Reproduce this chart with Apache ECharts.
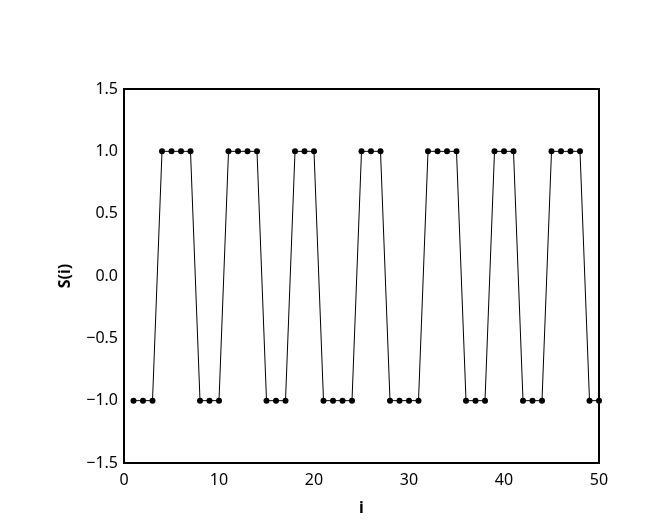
<!DOCTYPE html>
<html>
<head>
<meta charset="utf-8">
<script src="https://cdn.jsdelivr.net/npm/echarts@6/dist/echarts.min.js"></script>
<style>
  html, body { margin: 0; padding: 0; background: #fff; }
  #chart { width: 671px; height: 521px; }
</style>
</head>
<body>
<div id="chart"></div>
<script>
// spin values S(i) for i = 1..50
const steps = [1,2,3,4,5,6,7,8,9,10,11,12,13,14,15,16,17,18,19,20,21,22,23,24,25,26,27,28,29,30,31,32,33,34,35,36,37,38,39,40,41,42,43,44,45,46,47,48,49,50];
const spins = [-1,-1,-1,1,1,1,1,-1,-1,-1,1,1,1,1,-1,-1,-1,1,1,1,-1,-1,-1,-1,1,1,1,-1,-1,-1,-1,1,1,1,1,-1,-1,-1,1,1,1,-1,-1,-1,1,1,1,1,-1,-1];
const yTicks = [-1.5, -1.0, -0.5, 0.0, 0.5, 1.0, 1.5];

const font = "'Noto Sans', 'Open Sans', sans-serif";
const chart = echarts.init(document.getElementById("chart"));

chart.setOption({
  animation: false,
  backgroundColor: "#fff",
  grid: { left: 124, right: 72, top: 89, bottom: 58 },
  xAxis: {
    type: "value",
    min: 0,
    max: 50,
    interval: 10,
    name: "i",
    nameLocation: "middle",
    nameGap: 37,
    nameTextStyle: { fontFamily: font, fontSize: 16, fontWeight: "bold", color: "#000" },
    axisLine: { show: true, onZero: false, lineStyle: { color: "#000", width: 2 } },
    axisTick: { show: false },
    axisLabel: { fontFamily: font, fontSize: 16, color: "#000", margin: 9 },
    splitLine: { show: false }
  },
  yAxis: {
    type: "value",
    min: -1.5,
    max: 1.5,
    interval: 0.5,
    name: "S(i)",
    nameLocation: "middle",
    nameGap: 51,
    nameTextStyle: { fontFamily: font, fontSize: 16, fontWeight: "bold", color: "#000" },
    axisLine: { show: true, onZero: false, lineStyle: { color: "#000", width: 2 } },
    axisTick: { show: false },
    axisLabel: {
      fontFamily: font, fontSize: 16, color: "#000", margin: 6,
      formatter: v => {
        const t = yTicks.find(x => Math.abs(x - v) < 1e-9);
        const s = (t !== undefined ? t : v).toFixed(1);
        return s.replace("-", "\u2212");
      }
    },
    splitLine: { show: false }
  },
  graphic: [{
    type: "rect",
    shape: { x: 124, y: 89, width: 475, height: 374 },
    style: { fill: "none", stroke: "#000", lineWidth: 2 },
    z: 10
  }],
  series: [{
    type: "line",
    data: steps.map((s, k) => [s, spins[k]]),
    symbol: "circle",
    symbolSize: 6,
    clip: false,
    lineStyle: { color: "#000", width: 1 },
    itemStyle: { color: "#000" }
  }]
});
</script>
</body>
</html>
